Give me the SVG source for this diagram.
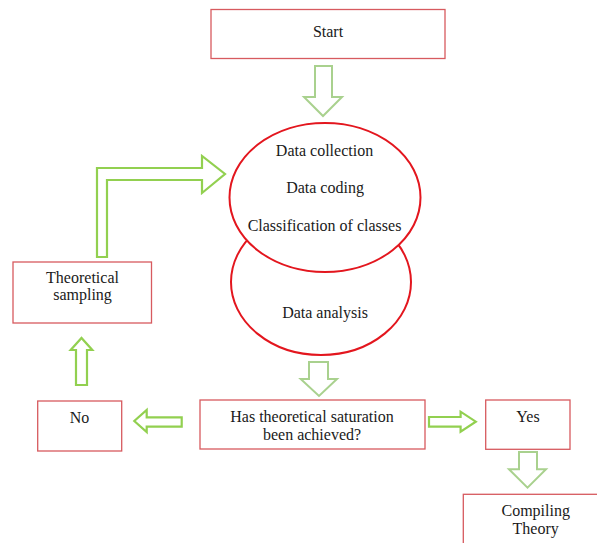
<svg xmlns="http://www.w3.org/2000/svg" width="597" height="543" viewBox="0 0 597 543">
<style>
.box{fill:#ffffff;stroke:#d75a5f;stroke-width:1.3}
.ell{fill:#ffffff;stroke:#e3161e;stroke-width:2}
.arr{fill:#ffffff;stroke:#a9d18e;stroke-width:2;stroke-linejoin:miter}
.arr2{fill:#ffffff;stroke:#92d050;stroke-width:2.2;stroke-linejoin:miter}
.t{font-family:'Liberation Serif','DejaVu Serif','Times New Roman',serif;font-size:16px;fill:#1a1a1a;text-anchor:middle}
</style>
<rect width="597" height="543" fill="#ffffff"/>
<g id="connectors">
<polygon class="arr" points="315,66 332,66 332,97 342,97 323,116 304,97 315,97"/>
<polygon class="arr2" points="97,257 97,168 202,168 202,156 225,174 202,193 202,180 107,180 107,257"/>
<polygon class="arr2" points="76,385 76,350 70.7,350 81.5,338 92.3,350 87,350 87,385"/>
<polygon class="arr2" points="181.7,417.3 146.7,417.3 146.7,410 134.3,421 146.7,432 146.7,426.7 181.7,426.7"/>
<polygon class="arr" points="309,362 328,362 328,379 337,379 319,396 300.7,379 309,379"/>
<polygon class="arr2" points="429,417 460.6,417 460.6,411.7 475.8,421.7 460.6,431.7 460.6,426.7 429,426.7"/>
<polygon class="arr" points="519,452 537,452 537,469.3 546,469.3 527.5,487.7 509,469.3 519,469.3"/>
</g>
<g id="start">
<rect class="box" x="211" y="9.5" width="234" height="49"/>
<text class="t" font-family="Liberation Serif, serif" x="328" y="37">Start</text>
</g>
<g id="data-analysis">
<ellipse class="ell" cx="321" cy="282" rx="90" ry="73"/>
<text class="t" font-family="Liberation Serif, serif" x="325" y="318">Data analysis</text>
</g>
<g id="data-collection">
<ellipse class="ell" cx="325" cy="197.5" rx="95.5" ry="74.5"/>
<text class="t" font-family="Liberation Serif, serif" x="324.5" y="156">Data collection</text>
<text class="t" font-family="Liberation Serif, serif" x="325" y="193">Data coding</text>
<text class="t" font-family="Liberation Serif, serif" x="324.5" y="231">Classification of classes</text>
</g>
<g id="theoretical-sampling">
<rect class="box" x="13" y="262" width="138.5" height="61"/>
<text class="t" font-family="Liberation Serif, serif" x="82.5" y="283">Theoretical</text>
<text class="t" font-family="Liberation Serif, serif" x="82.5" y="300">sampling</text>
</g>
<g id="no">
<rect class="box" x="37.7" y="401" width="84" height="50"/>
<text class="t" font-family="Liberation Serif, serif" x="79.5" y="423">No</text>
</g>
<g id="saturation">
<rect class="box" x="200" y="400" width="225" height="49"/>
<text class="t" font-family="Liberation Serif, serif" x="312" y="422">Has theoretical saturation</text>
<text class="t" font-family="Liberation Serif, serif" x="312" y="440">been achieved?</text>
</g>
<g id="yes">
<rect class="box" x="485.7" y="400" width="84.3" height="49.3"/>
<text class="t" font-family="Liberation Serif, serif" x="528" y="422">Yes</text>
</g>
<g id="compiling-theory">
<rect class="box" x="463.3" y="494.3" width="150" height="60"/>
<text class="t" font-family="Liberation Serif, serif" x="535.7" y="516">Compiling</text>
<text class="t" font-family="Liberation Serif, serif" x="535.7" y="534">Theory</text>
</g>
</svg>
